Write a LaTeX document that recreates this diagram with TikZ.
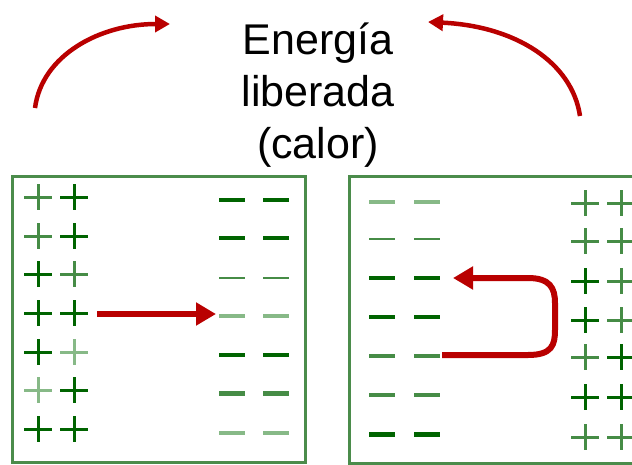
\documentclass[tikz,border=0pt]{standalone}
\usepackage{fontspec}
\setmainfont{Liberation Sans}
\usetikzlibrary{arrows.meta}
\definecolor{darkg}{RGB}{0,100,0}
\definecolor{midg}{RGB}{70,140,70}
\definecolor{paleg}{RGB}{135,185,135}
\definecolor{boxg}{RGB}{75,140,75}
\definecolor{arrred}{RGB}{185,0,0}
\tikzset{
  plussign/.pic={\draw[line width=3pt] (-14,0)--(14,0) (0,-13)--(0,13);},
  minussign/.pic={\draw[line width=3.5pt] (-13,0)--(13,0);},
  minusthin/.pic={\draw[line width=2.5pt] (-13,0)--(13,0);},
  minusthick/.pic={\draw[line width=5pt] (-13,0)--(13,0);},
  panel/.style={draw=boxg, line width=3pt},
  redarrow/.style={draw=arrred, line width=4.5pt, -{Triangle[length=15pt,width=16pt]}},
  bigarrow/.style={draw=arrred, line width=6pt, -{Triangle[length=20pt,width=22pt]}},
  label/.style={align=center, font=\fontsize{43}{52}\selectfont, inner sep=0pt}
}
\begin{document}
\begin{tikzpicture}[x=1pt,y=-1pt]
\useasboundingbox (0,0) rectangle (632,464);
\clip (0,0) rectangle (632,464);
% text
\node[label] (txt) at (318,95) {Energía\\liberada\\(calor)};
% top arrows
\coordinate (la) at (35,108);
\coordinate (lt) at (170,24);
\coordinate (ra) at (580,116);
\coordinate (rt) at (428,22);
\draw[redarrow] (la) .. controls (42,55) and (100,24) .. (lt);
\draw[redarrow] (ra) .. controls (572,62) and (515,26) .. (rt);
% panels
\node[panel, minimum width=293pt, minimum height=286pt, inner sep=0pt] (lbox) at (158.5,319) {};
\node[panel, minimum width=300pt, minimum height=287pt, inner sep=0pt] (rbox) at (499,319.5) {};
% left panel plus signs
\foreach \y/\ca/\cb in {197/midg/darkg, 236/midg/darkg, 274/darkg/midg, 313/darkg/darkg, 352/darkg/paleg, 390/paleg/darkg, 429/darkg/darkg}{
  \pic[color=\ca] at (38,\y) {plussign};
  \pic[color=\cb] at (74,\y) {plussign};
}
% left panel minus signs
\foreach \y/\c/\s in {200/darkg/minussign, 238/darkg/minussign, 278/midg/minusthin, 316/paleg/minussign, 355/darkg/minussign, 393/midg/minusthick, 433/paleg/minussign}{
  \pic[color=\c] at (232,\y) {\s};
  \pic[color=\c] at (276,\y) {\s};
}
% right panel minus signs
\foreach \y/\c/\s in {202/paleg/minussign, 239/midg/minusthin, 278/darkg/minussign, 317/darkg/minussign, 356/midg/minussign, 395/midg/minussign, 434/darkg/minusthick}{
  \pic[color=\c] at (382,\y) {\s};
  \pic[color=\c] at (427,\y) {\s};
}
% right panel plus signs
\foreach \y/\ca/\cb in {203/midg/midg, 241/midg/midg, 281/darkg/midg, 320/darkg/midg, 357/midg/darkg, 397/darkg/darkg, 437/midg/midg}{
  \pic[color=\ca] at (585,\y) {plussign};
  \pic[color=\cb] at (621,\y) {plussign};
}
% middle arrows
\coordinate (ms) at (97,314);
\coordinate (me) at (216,314);
\draw[bigarrow] (ms) -- (me);
\coordinate (us) at (442,355);
\coordinate (ue) at (453,278);
\draw[bigarrow] (us) -- (528,355) .. controls (552,355) and (555,345) .. (555,330) -- (555,303) .. controls (555,288) and (550,278) .. (528,278) -- (ue);
\end{tikzpicture}
\end{document}
